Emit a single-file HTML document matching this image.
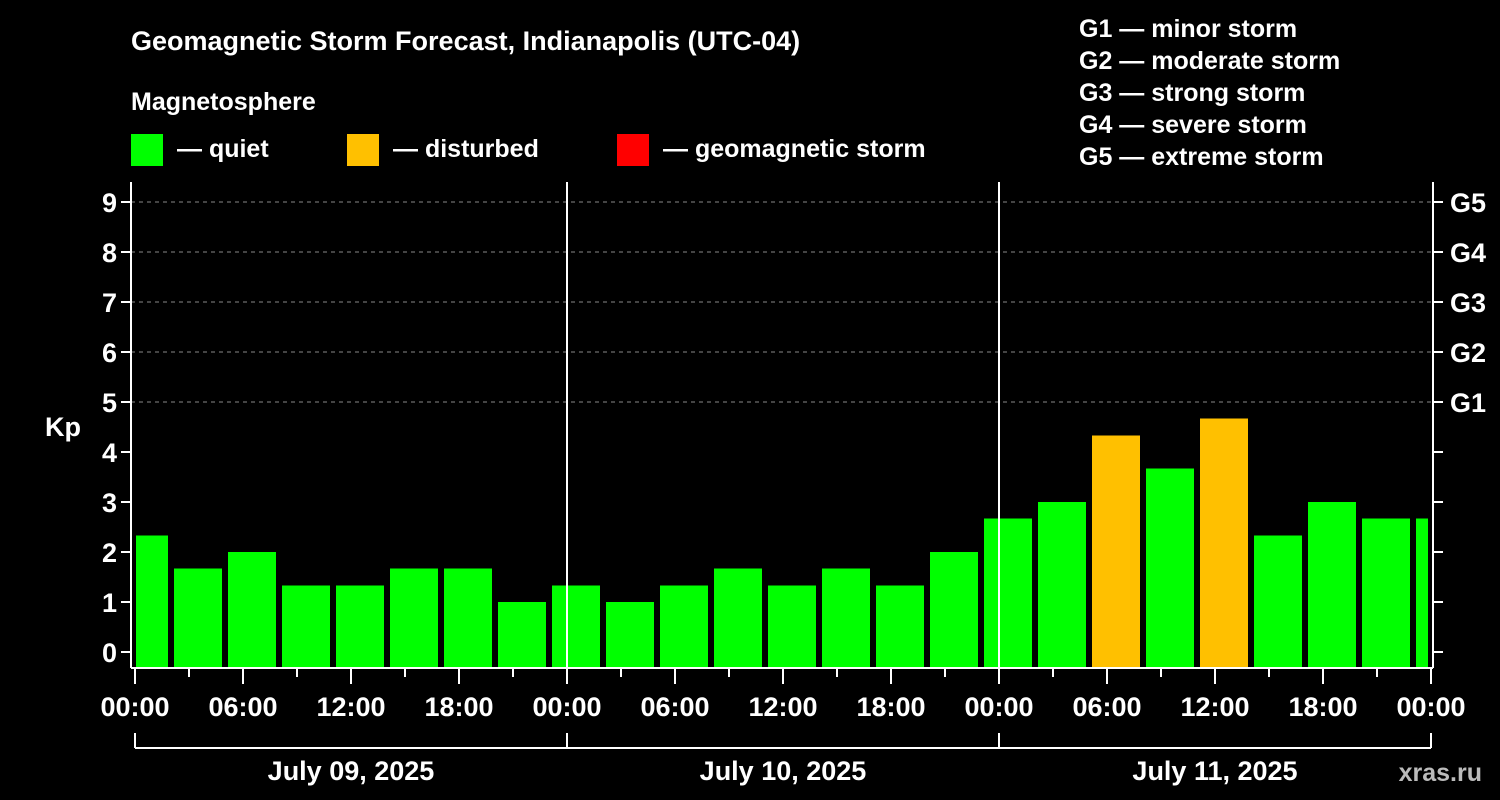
<!DOCTYPE html>
<html><head><meta charset="utf-8"><style>
html,body{margin:0;padding:0;background:#000;width:1500px;height:800px;overflow:hidden}
svg text{font-family:"Liberation Sans",Arial,sans-serif;font-weight:bold;fill:#fff}
</style></head><body>
<svg id="chart" width="1500" height="800" xmlns="http://www.w3.org/2000/svg">
<rect width="1500" height="800" fill="#000"/>
<text x="131" y="50" font-size="27">Geomagnetic Storm Forecast, Indianapolis (UTC-04)</text>
<text x="131" y="110" font-size="25">Magnetosphere</text>
<g>
<rect x="131" y="134" width="32" height="32" fill="#00ff00"/>
<text x="177" y="157" font-size="25">— quiet</text>
<rect x="347" y="134" width="32" height="32" fill="#ffc000"/>
<text x="393" y="157" font-size="25">— disturbed</text>
<rect x="617" y="134" width="32" height="32" fill="#ff0000"/>
<text x="663" y="157" font-size="25">— geomagnetic storm</text>
</g>
<g font-size="25">
<text x="1079" y="37">G1 — minor storm</text>
<text x="1079" y="69">G2 — moderate storm</text>
<text x="1079" y="101">G3 — strong storm</text>
<text x="1079" y="133">G4 — severe storm</text>
<text x="1079" y="165">G5 — extreme storm</text>
</g>
<text x="63" y="436" font-size="27" text-anchor="middle">Kp</text>
<text x="1482" y="781" font-size="25" text-anchor="end" fill="#aaa" style="fill:#bbb">xras.ru</text>
<g id="plot"></g>
</svg>
<script>
const kpValues=[2.33,1.67,2.0,1.33,1.33,1.67,1.67,1.0, 1.33,1.0,1.33,1.67,1.33,1.67,1.33,2.0, 2.67,3.0,4.33,3.67,4.67,2.33,3.0,2.67,2.67];
const yTicks=[0,1,2,3,4,5,6,7,8,9];
const gLabels=["G1","G2","G3","G4","G5"];
const gLevels=[5,6,7,8,9];
const xTickLabels=["00:00","06:00","12:00","18:00","00:00","06:00","12:00","18:00","00:00","06:00","12:00","18:00","00:00"];
const dayLabels=["July 09, 2025","July 10, 2025","July 11, 2025"];
const firstBarStartHour=-1, barHours=3, totalHours=72;

const NS="http://www.w3.org/2000/svg";
const L=131,R=1433,T=182,B=668;
const X0=135,X1=1431;
const x=h=>X0+(X1-X0)*h/totalHours;
const y=k=>652-50*k;
const g=document.getElementById('plot');
function el(tag,attrs,parent){const e=document.createElementNS(NS,tag);for(const k in attrs)e.setAttribute(k,attrs[k]);(parent||g).appendChild(e);return e;}

// grid for G levels
gLevels.forEach((lv,i)=>{
  const ln=el('line',{x1:L,x2:R,y1:y(lv),y2:y(lv),stroke:'#888','stroke-width':1,'stroke-dasharray':'4,4'});
  
  
  const t=el('text',{x:1450,y:y(lv)+10,'font-size':27});
  t.textContent=gLabels[i];
  
  
});
// bars
kpValues.forEach((v,i)=>{
  let h0=firstBarStartHour+i*barHours, h1=h0+barHours;
  let xa=x(h0)+3, xb=x(h1)-3;
  xa=Math.max(xa,x(0)+1); xb=Math.min(xb,x(totalHours)-3);
  const r=el('rect',{x:xa,y:y(v),width:xb-xa,height:B-y(v),fill:v>=4?'#ffc000':'#00ff00'});
  
  
});
// day dividers
[24,48].forEach(h=>{
  const ln=el('line',{x1:x(h),x2:x(h),y1:T,y2:B,stroke:'#fff','stroke-width':2});
  
  
});
// axes
[[L,T,L,B],[R,T,R,B],[L,B,R,B]].forEach(a=>{
  const ln=el('line',{x1:a[0],y1:a[1],x2:a[2],y2:a[3],stroke:'#fff','stroke-width':2});
  
  
});
yTicks.forEach(k=>{
  const t1=el('line',{x1:L-10,x2:L,y1:y(k),y2:y(k),stroke:'#fff','stroke-width':2});
  
  
  const t2=el('line',{x1:R,x2:R+10,y1:y(k),y2:y(k),stroke:'#fff','stroke-width':2});
  
  
  const t=el('text',{x:117,y:y(k)+10,'font-size':27,'text-anchor':'end'});
  t.textContent=k;
  
  
});
for(let h=0;h<=totalHours;h+=3){
  const major=h%6===0;
  const ln=el('line',{x1:x(h),x2:x(h),y1:B,y2:B+(major?16:9),stroke:'#fff','stroke-width':2});
  
  
}
xTickLabels.forEach((s,i)=>{
  const t=el('text',{x:x(i*6),y:716,'font-size':27,'text-anchor':'middle'});
  t.textContent=s;
  
  
});
// date bracket
el('line',{x1:X0,x2:X1,y1:748,y2:748,stroke:'#fff','stroke-width':2});
[0,24,48,72].forEach(h=>{
  const ln=el('line',{x1:x(h),x2:x(h),y1:733,y2:748,stroke:'#fff','stroke-width':2});
  
  
});
dayLabels.forEach((s,i)=>{
  const t=el('text',{x:x(i*24+12),y:780,'font-size':27,'text-anchor':'middle'});
  t.textContent=s;
  
  
});
</script>
</body></html>
